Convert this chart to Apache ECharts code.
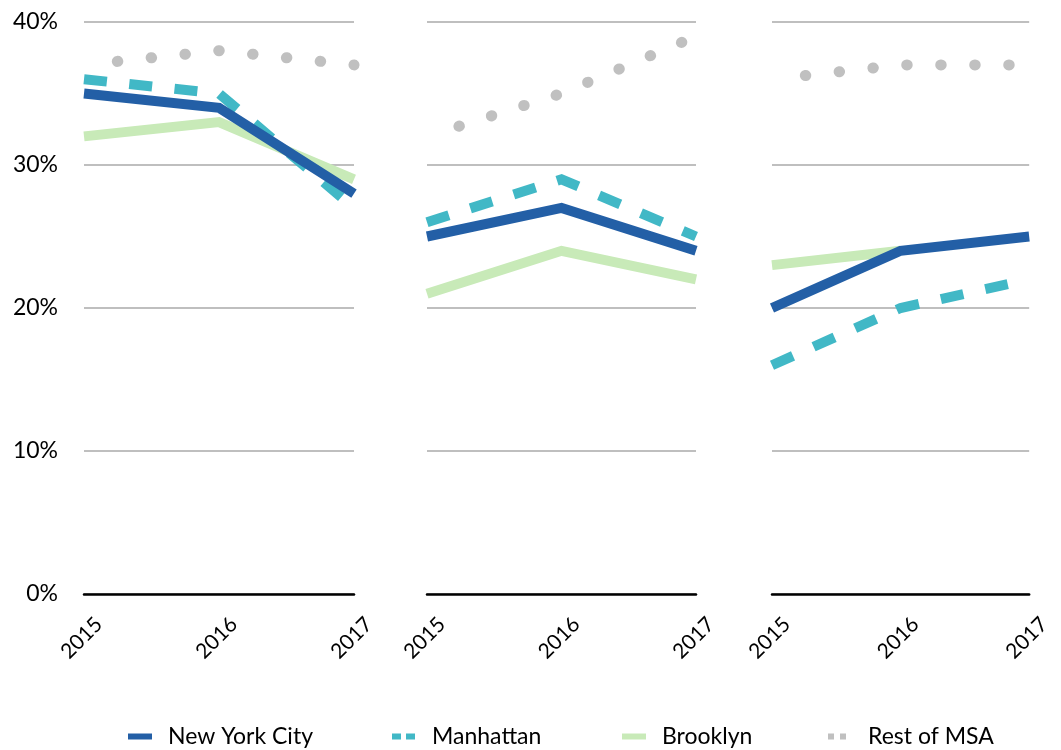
<!DOCTYPE html>
<html>
<head>
<meta charset="utf-8">
<script src="https://cdn.jsdelivr.net/npm/echarts@6/dist/echarts.min.js"></script>
<style>
html,body{margin:0;padding:0;background:#fff;}
#chart{width:1061px;height:750px;}
</style>
</head>
<body>
<div id="chart"></div>
<script>
// ---- data ----
var years = ['2015', '2016', '2017'];
var yTicks = [0, 10, 20, 30, 40];
var seriesNames = ['New York City', 'Manhattan', 'Brooklyn', 'Rest of MSA'];
// one row per panel (left, middle, right)
var newYorkCity = [[35, 34, 28], [25, 27, 24], [20, 24, 25]];
var manhattan   = [[36, 35, 27], [26, 29, 25], [16, 20, 22]];
var brooklyn    = [[32, 33, 29], [21, 24, 22], [23, 24, null]];
var restOfMSA   = [[37, 38, 37], [32, 35, 39], [36, 37, 37]];

// ---- styling ----
var FONT = 'Lato';
var colors = {
  'New York City': '#235fa6',
  'Manhattan': '#41b8c6',
  'Brooklyn': '#c8eab8',
  'Rest of MSA': '#c0c0c0'
};
var panels = [
  {left: 84, width: 270},
  {left: 427, width: 269},
  {left: 772, width: 269}
];
var grids = [], xAxes = [], yAxes = [], series = [];
panels.forEach(function (p, i) {
  grids.push({left: p.left, width: p.width, top: 22, height: 572, containLabel: false});
  xAxes.push({
    type: 'category', gridIndex: i, data: years, boundaryGap: false, z: 5,
    axisLine: {show: true, lineStyle: {color: '#000', width: 2.5}},
    axisTick: {show: false},
    axisLabel: {
      interval: 0, rotate: 45, margin: 12, verticalAlign: 'top', lineHeight: 42,
      fontFamily: FONT, fontSize: 21, color: '#000'
    },
    splitLine: {show: false}
  });
  yAxes.push({
    type: 'value', gridIndex: i, min: yTicks[0], max: yTicks[yTicks.length - 1], interval: 10,
    axisLine: {show: false}, axisTick: {show: false},
    axisLabel: {
      show: i === 0, margin: 26, fontFamily: FONT, fontSize: 23, color: '#000',
      formatter: '{value}%'
    },
    splitLine: {show: true, lineStyle: {color: '#bfbfbf', width: 2}}
  });
  var base = {type: 'line', xAxisIndex: i, yAxisIndex: i, symbol: 'none', silent: true,
              animation: false, connectNulls: false, clip: false};
  series.push(Object.assign({}, base, {
    name: 'Rest of MSA', data: restOfMSA[i], z: 2,
    lineStyle: {color: colors['Rest of MSA'], width: 11, type: [0.5, 33.5], dashOffset: 0.5, cap: 'round'}
  }));
  series.push(Object.assign({}, base, {
    name: 'Manhattan', data: manhattan[i], z: 3,
    lineStyle: {color: colors['Manhattan'], width: 10, type: [23, 22.5], cap: 'butt', join: 'miter'}
  }));
  series.push(Object.assign({}, base, {
    name: 'Brooklyn', data: brooklyn[i], z: 4,
    lineStyle: {color: colors['Brooklyn'], width: 10, join: 'miter'}
  }));
  series.push(Object.assign({}, base, {
    name: 'New York City', data: newYorkCity[i], z: 5,
    lineStyle: {color: colors['New York City'], width: 10, join: 'miter'}
  }));
});

// legend icons (24 x 6 boxes)
var legendIcons = {
  'New York City': 'path://M0,0H24V6H0Z',
  'Manhattan': 'path://M0,0H9V6H0Z M14,0H23V6H14Z M23.9,0H24V0.01H23.9Z',
  'Brooklyn': 'path://M0,0H24V6H0Z',
  'Rest of MSA': 'path://M0,0H6V6H0Z M12,0H18V6H12Z M23.9,0H24V0.01H23.9Z'
};
var legendLeft = [128, 392, 622, 828];
var legends = seriesNames.map(function (n, k) {
  return {
    left: legendLeft[k], top: 725, padding: 0, orient: 'horizontal',
    itemWidth: 24, itemHeight: 6, selectedMode: false, symbolKeepAspect: false,
    textStyle: {fontFamily: FONT, fontSize: 23, color: '#000', padding: [0, 0, 0, 11]},
    data: [{name: n, icon: legendIcons[n], itemStyle: {color: colors[n]}}]
  };
});

var option = {
  backgroundColor: '#fff',
  animation: false,
  grid: grids,
  xAxis: xAxes,
  yAxis: yAxes,
  legend: legends,
  series: series
};

var chart = echarts.init(document.getElementById('chart'), null, {renderer: 'canvas'});
chart.setOption(option);
</script>
</body>
</html>
